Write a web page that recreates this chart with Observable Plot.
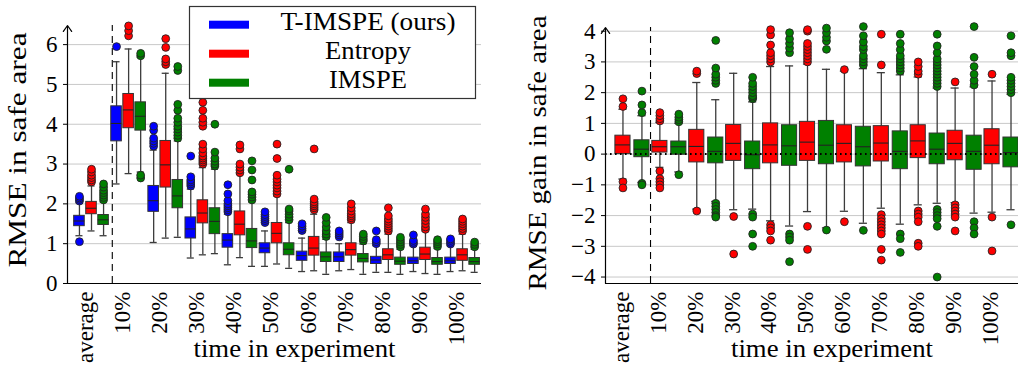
<!DOCTYPE html>
<html><head><meta charset="utf-8">
<script src="https://cdn.jsdelivr.net/npm/d3@7"></script>
<script src="https://cdn.jsdelivr.net/npm/@observablehq/plot@0.6"></script>
<style>
body{margin:0;background:#fff;color:#000;}
#wrap{position:relative;width:1018px;height:370px;overflow:hidden;background:#fff}
#left{position:absolute;left:0;top:0}
#right{position:absolute;left:509px;top:0}
#legend{position:absolute;left:0;top:0}
</style></head><body><div id="wrap"><div id="left"></div><div id="right"></div><div id="legend"></div></div>
<script>
// ---------------- data ----------------
const groups = ["average","10%","20%","30%","40%","50%","60%","70%","80%","90%","100%"];
const seriesNames = ["T-IMSPE (ours)","Entropy","IMSPE"];
const seriesColors = ["#0000ff","#ff0000","#008000"];

// Left panel: RMSE in safe area — [lower whisker, Q1, median, Q3, upper whisker]
const rmseTimspe = [
  [1.20,1.44,1.57,1.70,2.03],[2.50,3.57,4.02,4.45,5.57],[1.03,1.80,2.08,2.45,3.35],[0.64,1.13,1.37,1.66,2.37],
  [0.47,0.90,1.09,1.24,1.74],[0.43,0.76,0.89,1.01,1.32],[0.30,0.57,0.70,0.80,1.14],[0.32,0.54,0.67,0.78,1.00],
  [0.28,0.49,0.59,0.67,0.95],[0.30,0.49,0.57,0.65,0.95],[0.30,0.49,0.57,0.65,0.95]];
const rmseEntropy = [
  [1.32,1.74,1.89,2.05,2.45],[2.76,3.90,4.36,4.76,5.89],[1.14,2.41,2.98,3.58,5.28],[0.72,1.51,1.77,2.09,2.91],
  [0.65,1.21,1.49,1.81,2.75],[0.49,1.01,1.26,1.52,2.20],[0.32,0.70,0.89,1.17,1.74],[0.35,0.70,0.85,1.01,1.53],
  [0.28,0.59,0.72,0.86,1.24],[0.25,0.59,0.74,0.90,1.32],[0.32,0.57,0.72,0.86,1.24]];
const rmseImspe = [
  [1.20,1.47,1.60,1.72,2.05],[2.80,3.84,4.20,4.55,5.68],[1.16,1.89,2.20,2.60,3.58],[0.75,1.24,1.56,1.89,2.87],
  [0.43,0.89,1.07,1.37,2.05],[0.38,0.71,0.86,1.01,1.53],[0.23,0.54,0.67,0.78,1.11],[0.23,0.53,0.63,0.74,0.99],
  [0.23,0.47,0.56,0.65,0.86],[0.23,0.47,0.55,0.64,0.88],[0.28,0.47,0.55,0.64,0.86]];
const rmseTimspeOut = [
  [1.05,2.07,2.11,2.15,2.19],[5.95],[3.45,3.52,3.58,3.65,3.85,3.95],[2.45,2.50,2.55,2.60,2.68,3.20],
  [1.80,1.85,1.90,1.95,2.00,2.08,2.25,2.48],[1.53,1.58,1.63,1.68,1.73,1.80],[1.33,1.38,1.44,1.50],
  [1.17,1.22,1.27,1.32],[1.00,1.05,1.10,1.32],[0.99,1.03,1.08,1.22],[0.99,1.03,1.08,1.12]];
const rmseEntropyOut = [
  [2.55,2.60,2.66,2.72,2.80,2.87],[6.22,6.35,6.47],[5.50,5.57,5.64,5.93,6.15],
  [3.00,3.05,3.10,3.15,3.20,3.28,3.38,3.50,3.95,4.05,4.15,4.35,4.55],[2.78,2.85,2.92,3.00,3.38,3.48],
  [2.25,2.32,2.40,2.47,2.55,2.62,2.72,3.14,3.50],[1.85,1.90,1.95,2.00,2.05,2.12,3.38],
  [1.60,1.65,1.70,1.75,1.82,1.90,2.00],[1.32,1.38,1.44,1.50,1.56,1.62,1.70,1.90],
  [1.36,1.42,1.50,1.58,1.66,1.74,1.87],[1.32,1.38,1.44,1.50,1.56,1.62]];
const rmseImspeOut = [
  [2.10,2.16,2.22,2.28,2.34,2.42,2.50],[2.65,2.72,5.72,5.78],[3.65,3.72,3.80,3.88,3.95,4.05,4.15,4.35,4.50,5.35,5.45],
  [2.95,3.00,3.07,3.15,3.30,4.00],[2.10,2.17,2.24,2.30,2.60,2.85,3.08],[1.60,1.67,1.74,1.82,1.87,2.87],
  [1.18,1.24,1.32,1.42,1.53,1.66],[1.07,1.12,1.18,1.24],[0.92,0.98,1.04,1.10,1.16],[0.93,0.99,1.05,1.10],[0.92,0.98,1.04]];

// Right panel: RMSE gain in safe area (Entropy and IMSPE)
const gainEntropy = [
  [-0.81,0.00,0.30,0.60,1.46],[-0.43,0.05,0.24,0.43,1.03],[-1.79,-0.27,0.25,0.79,2.33],[-1.81,-0.22,0.35,0.95,2.63],
  [-2.17,-0.30,0.30,1.00,2.85],[-1.87,-0.22,0.39,1.05,2.93],[-1.86,-0.27,0.35,0.94,2.70],[-1.76,-0.24,0.36,0.91,2.65],
  [-1.65,-0.13,0.43,0.94,2.51],[-1.58,-0.20,0.35,0.76,2.15],[-1.89,-0.33,0.29,0.81,2.38]];
const gainImspe = [
  [-0.92,-0.10,0.16,0.45,1.25],[-0.58,-0.02,0.24,0.41,1.00],[-1.54,-0.30,0.09,0.54,1.77],[-1.79,-0.49,-0.02,0.41,1.70],
  [-2.34,-0.38,0.27,0.94,2.87],[-2.40,-0.33,0.29,1.08,2.76],[-2.25,-0.40,0.24,0.89,2.78],[-2.28,-0.49,0.09,0.74,2.58],
  [-1.60,-0.33,0.16,0.67,2.15],[-1.92,-0.51,0.09,0.60,2.19],[-1.81,-0.43,0.05,0.54,1.95]];
const gainEntropyOut = [
  [1.55,1.80,-0.90,-1.10],[1.08,1.15,1.25,1.35,-0.55,-0.80,-0.90,-1.00,-1.10],[2.62,2.70,-1.85],[-2.03,-3.25],
  [3.00,3.10,3.20,3.30,3.55,3.88,4.05,-2.30,-2.40,-2.50,-2.80],
  [3.00,3.10,3.20,3.30,3.40,3.50,3.60,4.00,4.05,-2.35,-3.10],[2.75,-2.20],
  [2.90,3.90,-1.97,-2.10,-2.20,-2.30,-2.40,-2.50,-2.60,-3.10,-3.45],
  [2.60,2.70,2.85,3.00,-1.85,-1.95,-2.05,-2.20,-2.90,-3.00],[2.35,-1.65,-1.75,-1.85,-1.95,-2.05,-2.50],[2.60,-2.05,-3.15]];
const gainImspeOut = [
  [1.35,1.60,2.05,-0.95,-1.00],[1.05,1.12,1.20,1.30,-0.67],
  [2.30,2.40,2.50,2.60,2.80,3.70,-1.60,-1.70,-1.80,-1.90,-2.00,-2.05],
  [1.80,1.85,1.90,2.00,2.10,2.20,2.30,2.50,-1.95,-2.05,-2.60,-3.00],
  [3.30,3.45,3.60,3.75,3.95,-2.60,-2.70,-2.80,-3.50],[3.41,3.68,3.80,3.95,4.10,-2.47],
  [2.90,3.00,3.10,3.20,3.40,3.50,3.65,3.85,4.15,-2.48],[2.70,2.80,2.90,3.00,3.10,3.20,3.40,3.60,3.90,-2.60,-2.75,-3.20],
  [2.20,2.30,2.40,2.50,2.60,2.70,2.80,2.90,3.00,3.10,3.30,3.52,3.90,-1.80,-1.90,-2.00,-2.10,-2.35,-4.00],
  [2.25,2.40,2.60,2.85,3.15,4.15,-2.20,-2.40,-2.60],[2.00,2.10,2.20,2.30,2.40,2.50,3.20,3.30,3.85,-2.30]];

const rmseTicks = [0,1,2,3,4,5,6];
const gainTicks = [-4,-3,-2,-1,0,1,2,3,4];

// ---------------- drawing ----------------
const FONT = '"Liberation Serif", "DejaVu Serif", serif';

function panel(cfg) {
  const rows = [], outs = [];
  cfg.stats.forEach((st, s) => {
    st.forEach((v, g) => {
      rows.push({name: cfg.names[s], x: g + cfg.offsets[s], wlo: v[0], q1: v[1], med: v[2], q3: v[3], whi: v[4]});
      cfg.outs[s][g].forEach(y => outs.push({name: cfg.names[s], x: g + cfg.offsets[s], y}));
    });
  });
  const [x0, x1] = cfg.xDomain, [y0, y1] = cfg.yDomain;
  const hb = cfg.bw / 2, hc = cfg.cap / 2;
  const marks = [
    Plot.ruleY(cfg.ticks.filter(t => t > y0 + 0.05), {x1: x0, x2: x1, stroke: "#c8c8c8", strokeWidth: 1}),
    Plot.ruleX([cfg.sep], {y1: y0, y2: y1, stroke: "#000", strokeWidth: 1.1, strokeDasharray: "7,5"}),
    Plot.ruleX(rows, {x: "x", y1: "wlo", y2: "whi", stroke: "#3c3c3c", strokeWidth: 1.3}),
    Plot.ruleY(rows, {y: "wlo", x1: d => d.x - hc, x2: d => d.x + hc, stroke: "#3c3c3c", strokeWidth: 1.3}),
    Plot.ruleY(rows, {y: "whi", x1: d => d.x - hc, x2: d => d.x + hc, stroke: "#3c3c3c", strokeWidth: 1.3}),
    Plot.rect(rows, {x1: d => d.x - hb, x2: d => d.x + hb, y1: "q1", y2: "q3", fill: "name", stroke: "#333", strokeWidth: 1}),
    Plot.ruleY(rows, {y: "med", x1: d => d.x - hb, x2: d => d.x + hb, stroke: "#222", strokeWidth: 1.1})
  ];
  if (cfg.zero) marks.push(Plot.ruleY([0], {x1: x0, x2: x1, stroke: "#000", strokeWidth: 2, strokeDasharray: "1.6,3.4"}));
  marks.push(
    Plot.dot(outs, {x: "x", y: "y", r: 3.9, fill: "name", stroke: "#222", strokeWidth: 0.9}),
    Plot.ruleY([y0], {x1: x0, x2: x1, stroke: "#000", strokeWidth: 1.2}),
    Plot.arrow([0], {x1: x0, x2: x0, y1: y0, y2: y1, stroke: "#000", strokeWidth: 1.2, headLength: 9, headAngle: 70}),
    Plot.axisY(cfg.ticks, {tickSize: 4, tickPadding: 6, fontSize: 23, label: null}),
    Plot.axisX(groups.map((_, i) => i), {tickFormat: i => groups[i], tickRotate: -90, tickSize: 0, tickPadding: 8, dx: cfg.tickDx, fontSize: 23, label: null}),
    Plot.text([cfg.ylabel], {text: d => d, frameAnchor: "left", rotate: -90, textAnchor: "start", dx: cfg.ylabelDx, dy: cfg.ylabelDy, fontSize: 25}),
    Plot.text([cfg.xlabel], {text: d => d, frameAnchor: "bottom", textAnchor: "start", dx: 20 - 101, dy: 73, fontSize: 25})
  );
  const svg = Plot.plot({
    width: cfg.width, height: 370,
    marginLeft: cfg.marginLeft, marginRight: cfg.marginRight, marginTop: cfg.marginTop, marginBottom: 87,
    x: {type: "linear", domain: cfg.xDomain},
    y: {type: "linear", domain: cfg.yDomain},
    color: {domain: seriesNames, range: seriesColors},
    style: {fontFamily: FONT, fontSize: "23px", overflow: "visible"},
    marks
  });
  svg.querySelectorAll("text").forEach(t => {
    if (t.textContent === cfg.ylabel) { t.setAttribute("textLength", cfg.ylabelLen); t.setAttribute("lengthAdjust", "spacingAndGlyphs"); }
    if (t.textContent === cfg.xlabel) { t.setAttribute("textLength", 202); t.setAttribute("lengthAdjust", "spacingAndGlyphs"); }
  });
  return svg;
}

document.getElementById("left").appendChild(panel({
  stats: [rmseTimspe, rmseEntropy, rmseImspe], outs: [rmseTimspeOut, rmseEntropyOut, rmseImspeOut],
  names: seriesNames, offsets: [-0.325, 0, 0.325], bw: 0.285, cap: 0.19,
  xDomain: [-0.647, 10.51], yDomain: [0, 6.48], ticks: rmseTicks,
  width: 509, marginLeft: 67, marginRight: 28, marginTop: 25,
  sep: 0.56, zero: false, tickDx: -6,
  ylabel: "RMSE in safe area", ylabelDx: -50, ylabelDy: 113, ylabelLen: 235,
  xlabel: "time in experiment"
}));

document.getElementById("right").appendChild(panel({
  stats: [gainEntropy, gainImspe], outs: [gainEntropyOut, gainImspeOut],
  names: seriesNames.slice(1), offsets: [-0.257, 0.257], bw: 0.41, cap: 0.22,
  xDomain: [-0.73, 10.46], yDomain: [-4.21, 4.12], ticks: gainTicks,
  width: 509, marginLeft: 96, marginRight: 0, marginTop: 27,
  sep: 0.49, zero: true, tickDx: -11,
  ylabel: "RMSE gain in safe area", ylabelDx: -68, ylabelDy: 135, ylabelLen: 275,
  xlabel: "time in experiment"
}));

// legend
const lg = d3.select("#legend").append("svg").attr("width", 1018).attr("height", 110);
lg.append("rect").attr("x", 189.5).attr("y", 6.5).attr("width", 286).attr("height", 92)
  .attr("fill", "#fff").attr("stroke", "#333").attr("stroke-width", 1.2);
const legendWidths = [175, 86, 78];
seriesNames.forEach((n, i) => {
  const cy = 24.7 + i * 29;
  lg.append("rect").attr("x", 209).attr("y", cy - 4).attr("width", 40).attr("height", 8).attr("fill", seriesColors[i]);
  lg.append("text").attr("x", 368 - legendWidths[i] / 2).attr("y", cy + 5).attr("text-anchor", "start")
    .style("font-family", FONT).attr("font-size", 25)
    .attr("textLength", legendWidths[i]).attr("lengthAdjust", "spacingAndGlyphs").text(n);
});
</script>
</body></html>
